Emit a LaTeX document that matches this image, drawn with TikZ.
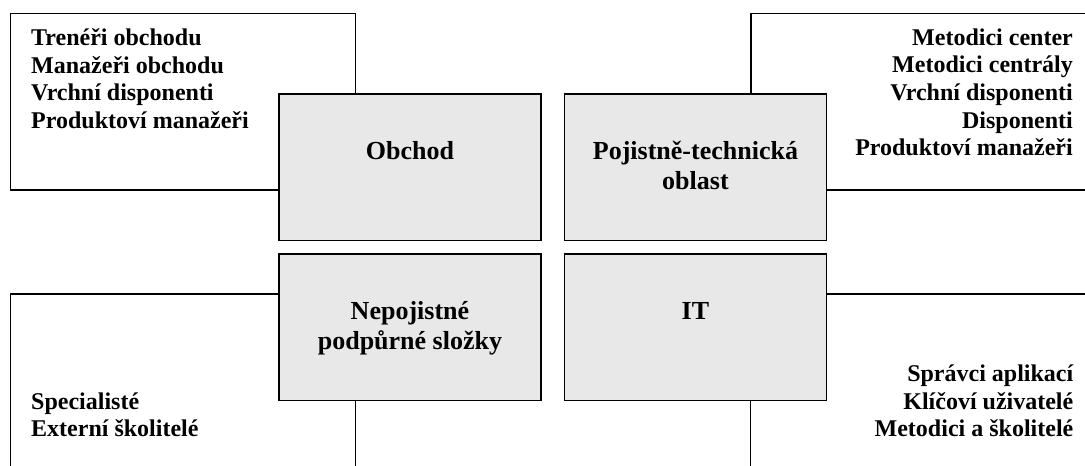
\documentclass[tikz,border=0pt]{standalone}
\usepackage{fontspec}
\setmainfont{Liberation Serif}
\usetikzlibrary{calc}
\definecolor{areagray}{RGB}{232,232,232}
\begin{document}
\begin{tikzpicture}[x=1pt,y=-1pt,
  frame/.style={draw=black, line width=1.9pt, fill=white, inner sep=0pt, anchor=north west},
  area/.style={draw=black, line width=1.9pt, fill=areagray, inner sep=0pt,
    minimum width=262pt, minimum height=146.8pt, anchor=north west},
  areatext/.style={font=\fontsize{26}{30}\selectfont\bfseries, align=center, inner sep=0pt, anchor=base},
  roleL/.style={font=\fontsize{24}{27.5}\selectfont\bfseries, align=left, inner sep=0pt, anchor=base west},
  roleR/.style={font=\fontsize{24}{27.6}\selectfont\bfseries, align=right, inner sep=0pt, anchor=base east}
]
\clip (0,0) rectangle (1085,466);
\fill[white] (0,0) rectangle (1085,466);
% outer frames
\node[frame, minimum width=345pt, minimum height=176.5pt] (tlbox) at (9.5,12.5) {};
\node[frame, minimum width=360pt, minimum height=176.5pt] (trbox) at (750,12.5) {};
\node[frame, minimum width=345pt, minimum height=200pt] (llbox) at (9.5,292.7) {};
\node[frame, minimum width=360pt, minimum height=200pt] (lrbox) at (749.5,292.7) {};
% central areas
\node[area] (obchod) at (278,92.7) {};
\node[area] (pojist) at (563.5,92.7) {};
\node[area] (nepoj) at (278,252.7) {};
\node[area] (it) at (563.5,252.7) {};
\node[areatext] (obchodt) at ($(obchod.north)+(0,66.4)$) {Obchod};
\node[areatext] (pojistt) at ($(pojist.north)+(0,96.5)$) {Pojistně-technická\\oblast};
\node[areatext] (nepojt) at ($(nepoj.north)+(0,96.5)$) {Nepojistné\\podpůrné složky};
\node[areatext] (itt) at ($(it.north)+(0,66.5)$) {IT};
% role lists (anchored at the baseline of the last line)
\node[roleL] (tlt) at (31,128) {Trenéři obchodu\\Manažeři obchodu\\Vrchní disponenti\\Produktoví manažeři};
\node[roleR] (trt) at (1073,155.7) {Metodici center\\Metodici centrály\\Vrchní disponenti\\Disponenti\\Produktoví manažeři};
\node[roleL] (llt) at (31,436.7) {Specialisté\\Externí školitelé};
\node[roleR] (lrt) at (1073.5,436.7) {Správci aplikací\\Klíčoví uživatelé\\Metodici a školitelé};
\end{tikzpicture}
\end{document}
